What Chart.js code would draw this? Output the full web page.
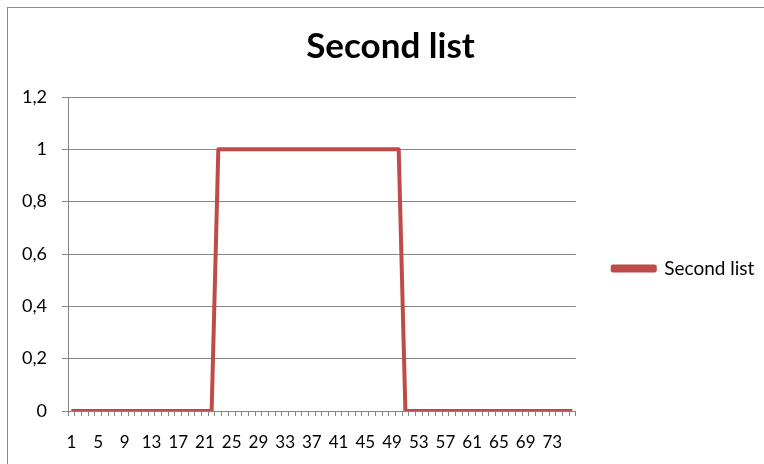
<!DOCTYPE html>
<html lang="en">
<head>
<meta charset="UTF-8">
<title>Second list</title>
<script src="https://cdn.jsdelivr.net/npm/chart.js"></script>
<style>
  html, body { margin: 0; padding: 0; background: #fff; overflow: hidden; }
  #frame { position: absolute; left: 7px; top: 7px; width: 800px; height: 500px; border: 1px solid #8c8c8c; }
  #wrap { position: absolute; left: 0; top: 0; width: 764px; height: 464px; }
</style>
</head>
<body>
<div id="frame"></div>
<div id="wrap"><canvas id="chart" width="764" height="464"></canvas></div>
<script>
const seriesName = 'Second list';

const categories = [
  '1','2','3','4','5','6','7','8','9','10','11','12','13','14','15','16','17','18','19',
  '20','21','22','23','24','25','26','27','28','29','30','31','32','33','34','35','36','37','38',
  '39','40','41','42','43','44','45','46','47','48','49','50','51','52','53','54','55','56','57',
  '58','59','60','61','62','63','64','65','66','67','68','69','70','71','72','73','74','75','76'
];

const values = [
  0,0,0,0,0,0,0,0,0,0,0,0,0,0,0,0,0,0,0,0,0,0,
  1,1,1,1,1,1,1,1,1,1,1,1,1,1,1,1,1,1,1,1,1,1,1,1,1,1,1,1,
  0,0,0,0,0,0,0,0,0,0,0,0,0,0,0,0,0,0,0,0,0,0,0,0,0,0
];

const xTickLabels = ['1','5','9','13','17','21','25','29','33','37','41','45','49','53','57','61','65','69','73'];
const yTicks = [0, 0.2, 0.4, 0.6, 0.8, 1, 1.2];

const lineColor = '#be4b48';
const axisColor = '#868686';
const font = 'Lato, "Open Sans", sans-serif';

new Chart(document.getElementById('chart'), {
  type: 'line',
  data: {
    labels: categories,
    datasets: [{
      label: seriesName,
      data: values,
      borderColor: lineColor,
      backgroundColor: lineColor,
      borderWidth: 4,
      pointRadius: 0,
      tension: 0,
      borderJoinStyle: 'round'
    }]
  },
  options: {
    responsive: false,
    devicePixelRatio: 1,
    animation: false,
    layout: { padding: { left: 20, right: 3, top: 14, bottom: 12 } },
    plugins: {
      title: {
        display: true,
        text: seriesName,
        color: '#000',
        font: { family: font, size: 35, weight: 'bold' },
        padding: { top: 12, bottom: 29 }
      },
      legend: {
        position: 'right',
        title: { display: true, text: ' ', font: { size: 10 }, padding: { top: 0, bottom: 59 } },
        labels: {
          color: '#000',
          font: { family: font, size: 19 },
          boxWidth: 42,
          boxHeight: 4,
          padding: 37
        }
      },
      tooltip: { enabled: false }
    },
    scales: {
      x: {
        offset: true,
        afterFit: s => { s.height = 41; },
        grid: { offset: true, drawOnChartArea: false, color: axisColor, tickLength: 5 },
        border: { color: axisColor },
        ticks: {
          autoSkip: false,
          maxRotation: 0,
          color: '#000',
          font: { family: font, size: 17 },
          padding: 16,
          callback: function (v) {
            const lab = this.getLabelForValue(v);
            return xTickLabels.includes(lab) ? lab : '';
          }
        }
      },
      y: {
        min: 0,
        max: 1.2,
        afterBuildTicks: s => { s.ticks = yTicks.map(v => ({ value: v })); },
        afterFit: s => { s.width = 48; },
        grid: { color: axisColor, tickLength: 6 },
        border: { color: axisColor },
        ticks: {
          color: '#000',
          font: { family: font, size: 18 },
          padding: 15,
          callback: v => String(v).replace('.', ',')
        }
      }
    }
  }
});
</script>
</body>
</html>
